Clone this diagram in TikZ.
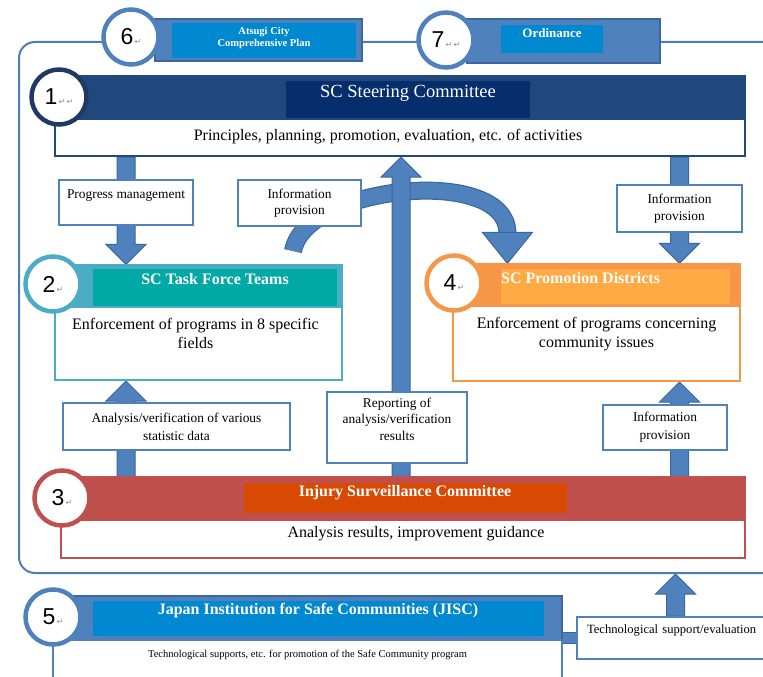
\documentclass[tikz,border=0pt]{standalone}
\usepackage{fontspec}
\setmainfont{Liberation Serif}
\newfontfamily\numfont{Liberation Sans}
\newfontfamily\markfont{DejaVu Sans}
\usetikzlibrary{calc,fit,positioning}
\definecolor{arrowfill}{HTML}{4F81BD}
\definecolor{arrowline}{HTML}{3B679E}
\definecolor{framecol}{HTML}{4A7DBA}
\definecolor{navy}{HTML}{1F497D}
\definecolor{navydark}{HTML}{062D6C}
\definecolor{navyring}{HTML}{1F3864}
\definecolor{tfband}{HTML}{4BACC6}
\definecolor{tfinner}{HTML}{00A8A6}
\definecolor{pdband}{HTML}{F79646}
\definecolor{pdinner}{HTML}{FFAA44}
\definecolor{isband}{HTML}{C0504D}
\definecolor{isinner}{HTML}{D84A04}
\definecolor{brightblue}{HTML}{0088D1}
\definecolor{markgray}{HTML}{8C8C8C}
\newcommand{\retmark}{{\markfont\fontsize{8}{8}\selectfont\color{markgray}\,↵}}
\newcommand{\fntlabel}{\fontsize{13.4}{16.5}\selectfont}
\newcommand{\fntbody}{\fontsize{16}{19}\selectfont}
\newcommand{\fnthead}{\fontsize{16}{18}\selectfont\bfseries}
\newcommand{\fntsteer}{\fontsize{18.5}{20}\selectfont}
\newcommand{\fntplan}{\fontsize{10.5}{12.5}\selectfont\bfseries}
\newcommand{\fntsmall}{\fontsize{10.5}{12}\selectfont}
\tikzstyle{Frame}=[draw=framecol, line width=2pt, rounded corners=16pt, inner sep=0pt]
\tikzstyle{Band}=[inner sep=0pt, line width=1.2pt]
\tikzstyle{Body}=[inner sep=0pt, fill=white, line width=2pt]
\tikzstyle{BodyText}=[inner sep=0pt, align=center, font=\fntbody]
\tikzstyle{Head}=[inner sep=0pt, text=white, font=\fnthead]
\tikzstyle{Ring}=[shape=circle, fill=white, line width=4.5pt, minimum size=55pt, inner sep=0pt, text=black, font=\numfont\fontsize{23}{23}\selectfont]
\tikzstyle{LabelBox}=[inner sep=0pt, fill=white, draw=arrowfill, line width=2pt, align=center, font=\fntlabel]
\tikzstyle{BlockArrow}=[fill=arrowfill, draw=arrowline, line width=1pt]
\tikzstyle{Connector}=[draw=arrowfill, line width=10pt, preaction={draw=arrowline, line width=12pt}]
\pgfdeclarelayer{arrowlayer}
\pgfsetlayers{arrowlayer,main}
% fat arrow, head of 20pt, from #1 to #2 (vertical)
\newcommand{\blockarrow}[2]{%
  \path[BlockArrow] let \p1=#1, \p2=#2, \n1={(\y2>\y1) ? 20 : -20} in
    ({\x1-9pt},{\y2-(\n1)*1pt}) -- ({\x1-20pt},{\y2-(\n1)*1pt}) -- (\x1,\y2)
    -- ({\x1+20pt},{\y2-(\n1)*1pt}) -- ({\x1+9pt},{\y2-(\n1)*1pt})
    -- ({\x1+9pt},\y1) -- ({\x1-9pt},\y1) -- cycle;}

\begin{document}
\begin{tikzpicture}[x=1pt, y=-1pt]
	\useasboundingbox (0,0) rectangle (763,677);
	\clip (0,0) rectangle (763,677);
	\node [Frame, fit={(19,42) (800,573)}] (frame) {};

	% 6 and 7 on the frame
	\node [Band, fill=arrowfill, draw=arrowline, fit={(155,19) (362,61)}] (band6) {};
	\node [Band, fill=brightblue, fit={(172,23) (356,58)}] (inner6) {};
	\node [Head, align=center, font=\fntplan] (plan) at (264,38) {Atsugi City\\Comprehensive Plan};
	\node [Ring, draw=arrowfill] (ring6) at (131,37) {6\retmark};
	\node [Band, fill=arrowfill, draw=arrowline, fit={(467,19) (660,63)}] (band7) {};
	\node [Band, fill=brightblue, fit={(501,25) (603,53)}] (inner7) {};
	\node [Head, font=\fontsize{13}{15}\selectfont\bfseries] (head7) at (552,33) {Ordinance};
	\node [Ring, draw=arrowfill] (ring7) at (446,40) {7\retmark\retmark};

	% 1 steering committee
	\node [Band, fill=navy, draw=navy, fit={(57,76) (745,119)}] (band1) {};
	\node [Band, fill=navydark, fit={(286,81) (530,119)}] (inner1) {};
	\node [Head, font=\fntsteer] (head1) at (408,93) {SC Steering Committee};
	\node [Body, draw=navy, fit={(55,119) (745,156)}] (body1) {};
	\node [BodyText] (text1) at (388,137) {Principles, planning, promotion, evaluation, etc. of activities};
	\node [Ring, draw=navyring] (ring1) at (59,97) {1\retmark\retmark};

	% 2 task force teams
	\node [Band, fill=tfband, draw=tfband, fit={(55,265) (342,307)}] (band2) {};
	\node [Band, fill=tfinner, fit={(93,269) (337,307)}] (inner2) {};
	\node [Head] (head2) at (215,279) {SC Task Force Teams};
	\node [Body, draw=tfband, fit={(55,307) (342,380)}] (body2) {};
	\node [BodyText, below=12pt of body2.north, xshift=-3pt] (text2) {Enforcement of programs in 8 specific\\fields};
	\node [Ring, draw=tfband] (ring2) at (53,284) {2\retmark};

	% 4 promotion districts
	\node [Band, fill=pdband, draw=pdband, fit={(452,264) (740,306)}] (band4) {};
	\node [Band, fill=pdinner, fit={(501,269) (730,304)}] (inner4) {};
	\node [Head, anchor=west] (head4) at (501,278) {SC Promotion Districts};
	\node [Body, draw=pdband, fit={(453,306) (740,381)}] (body4) {};
	\node [BodyText, below=12pt of body4.north] (text4) {Enforcement of programs concerning\\community issues};
	\node [Ring, draw=pdband] (ring4) at (454,283) {4\retmark};

	% 3 injury surveillance committee
	\node [Band, fill=isband, draw=isband, fit={(60,477) (745,520)}] (band3) {};
	\node [Band, fill=isinner, fit={(244,483) (567,513)}] (inner3) {};
	\node [Head] (head3) at (405,493) {Injury Surveillance Committee};
	\node [Body, draw=isband, fit={(61,520) (745,558)}] (body3) {};
	\node [BodyText] (text3) at (416,534) {Analysis results, improvement guidance};
	\node [Ring, draw=isband] (ring3) at (62,498) {3\retmark};

	% 5 JISC
	\node [Band, fill=arrowfill, draw=arrowline, fit={(53,596) (562,640)}] (band5) {};
	\node [Band, fill=brightblue, fit={(93,601) (544,636)}] (inner5) {};
	\node [Head] (head5) at (318,611) {Japan Institution for Safe Communities (JISC)};
	\node [Body, draw=arrowfill, fit={(53,640) (562,690)}] (body5) {};
	\node [BodyText, font=\fntsmall, below=11pt of body5.north] (text5) {Technological supports, etc. for promotion of the Safe Community program};
	\node [Ring, draw=arrowfill] (ring5) at (53,617) {5\retmark};

	% labels on the arrows
	\node [LabelBox, minimum width=134pt, minimum height=45pt] (progress) at (126,202.5) {Progress management\\ \mbox{}};
	\node [LabelBox, minimum width=123pt, minimum height=46pt] (infoleft) at (299.5,203) {Information\\provision};
	\node [LabelBox, minimum width=125pt, minimum height=47pt] (infotop) at (679.5,208.5) {Information\\provision};
	\node [LabelBox, minimum width=227pt, minimum height=47pt, font=\fontsize{13.4}{18}\selectfont] (analysis) at (176.5,426.5) {Analysis/verification of various\\statistic data};
	\node [LabelBox, minimum width=140pt, minimum height=71pt] (report) at (397,427.5) {Reporting of\\analysis/verification\\results\\ \mbox{}};
	\node [LabelBox, minimum width=124pt, minimum height=45pt, font=\fontsize{13.4}{18}\selectfont] (infobottom) at (665,427.5) {Information\\provision};
	\node [LabelBox, minimum width=223pt, minimum height=42pt, inner xsep=10pt, text width=203pt, align=left, font=\fontsize{12.6}{17}\selectfont] (tech) at (688.5,638) {Technological support/evaluation\\ \mbox{}};

	\begin{pgfonlayer}{arrowlayer}
		\coordinate (tail) at (293,251);
		\coordinate (tip) at ($(band4.north west)+(56,0)$);
		\draw [draw=arrowfill, line width=15.5pt, preaction={draw=arrowline, line width=18pt}] (tail) .. controls (305,185) and (506,165) .. ($(tip)+(0,-31)$);
		\path [BlockArrow] (tip) -- ++(-25,-31) -- ++(50,0) -- cycle;
		\blockarrow{($(report |- band3.north)+(4,0)$)}{($(report |- body1.south)+(4,0)$)}
		\blockarrow{(progress |- body1.south)}{(progress |- band2.north)}
		\blockarrow{(infotop |- body1.south)}{(infotop |- band4.north)}
		\blockarrow{(progress |- band3.north)}{(progress |- body2.south)}
		\blockarrow{(infotop |- band3.north)}{(infotop |- body4.south)}
		\blockarrow{($(infotop |- tech.north)+(-4,0)$)}{($(infotop |- frame.south)+(-4,0)$)}
		\coordinate (joint) at ($(band5.south east)+(0,-3)$);
		\draw [Connector] (joint) -- (joint -| tech.west);
	\end{pgfonlayer}
\end{tikzpicture}
\end{document}
